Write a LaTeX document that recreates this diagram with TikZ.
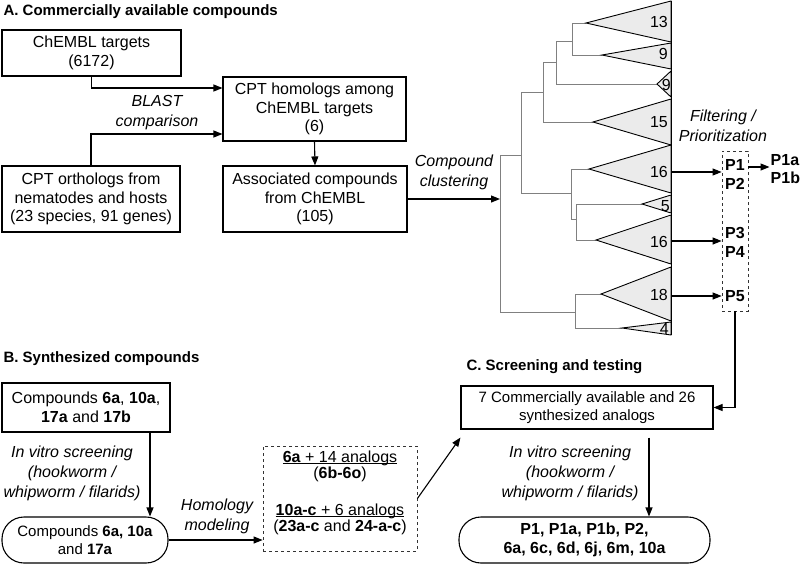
\documentclass[tikz,border=0pt]{standalone}
\usepackage{fontspec}
\setmainfont{Liberation Sans}
\usetikzlibrary{arrows.meta}

\begin{document}
\begin{tikzpicture}[x=1pt,y=-1pt,
	% kieu chung cho cac hop
	box/.style={
		draw=black,
		line width=1.1pt,
		align=center,
		inner sep=0pt,
		font=\fontsize{16}{18.5}\selectfont
	},
	rbox/.style={box, rounded corners=22pt},
	dbox/.style={draw=black!80, dashed, line width=0.8pt, align=center, inner sep=0pt},
	lbl/.style={align=center, font=\fontsize{16}{20}\selectfont\itshape},
	ttl/.style={anchor=west, font=\fontsize{15}{18}\selectfont\bfseries},
	arr/.style={line width=1.1pt, -{Triangle[length=9pt,width=7pt]}},
	branch/.style={draw=black!50, line width=0.9pt},
	clade/.style={draw=black, fill=black!8, line width=0.9pt},
	num/.style={anchor=east, inner sep=1pt, font=\fontsize{16}{18}\selectfont}
	]
	\useasboundingbox (0,0) rectangle (800,565);
	
	% Phan A
	\node[ttl] (ta) at (0,12) {A. Commercially available compounds};
	\node[box, minimum width=179pt, minimum height=46pt] (chembl) at (91.5,53) {ChEMBL targets\\(6172)};
	\node[box, minimum width=183pt, minimum height=64pt] (homol) at (314.5,109) {CPT homologs among\\ChEMBL targets\\(6)};
	\node[box, minimum width=178pt, minimum height=66pt] (ortho) at (91,199) {CPT orthologs from\\nematodes and hosts\\(23 species, 91 genes)};
	\node[box, minimum width=184pt, minimum height=66pt] (assoc) at (315,199) {Associated compounds\\from ChEMBL\\(105)};
	\node[lbl] (blast) at (157,113) {BLAST\\comparison};
	\draw[arr] (chembl.south) |- ([yshift=21pt]homol.west);
	\draw[arr] (ortho.north) |- ([yshift=-25pt]homol.west);
	\draw[arr] (homol.south) -- (assoc.north);
	
	% Cay phan cum
	\coordinate (root) at (500,199);
	\node[lbl] (clust) at (454,172) {Compound\\clustering};
	\draw[arr] (assoc.east) -- (assoc.east -| root);
	\draw[branch] (500,155) -- (500,312)
		(500,155) -- (521,155) (521,92) -- (521,193)
		(521,92) -- (543,92) (543,62) -- (543,122)
		(543,62) -- (556,62) (556,41) -- (556,84)
		(556,41) -- (572,41) (572,23) -- (572,55)
		(572,23) -- (586,23) (572,55) -- (602,55)
		(556,84) -- (657,84)
		(543,122) -- (593,122)
		(521,193) -- (571,193) (571,169) -- (571,219)
		(571,169) -- (589,169)
		(571,219) -- (576,219) (576,204) -- (576,240)
		(576,204) -- (642,204) (576,240) -- (596,240)
		(500,312) -- (575,312) (575,294) -- (575,328)
		(575,294) -- (601,294) (575,328) -- (622,328);
	\filldraw[clade] (586,23) -- (671,1) -- (671,42) -- cycle;
	\filldraw[clade] (602,55) -- (671,43) -- (671,69) -- cycle;
	\filldraw[clade] (657,84) -- (671,71) -- (671,97) -- cycle;
	\filldraw[clade] (593,122) -- (671,99) -- (671,145) -- cycle;
	\filldraw[clade] (589,169) -- (671,145) -- (671,193) -- cycle;
	\filldraw[clade] (642,204) -- (671,195) -- (671,213) -- cycle;
	\filldraw[clade] (596,240) -- (671,215) -- (671,264) -- cycle;
	\filldraw[clade] (601,294) -- (671,267) -- (671,321) -- cycle;
	\filldraw[clade] (622,328) -- (671,322) -- (671,335) -- cycle;
	\draw[line width=0.9pt] (671,1) -- (671,335);
	\node[num] (n13) at (669,22) {13};
	\node[num] (n9a) at (669,54) {9};
	\node[num] (n9b) at (672,85) {9};
	\node[num] (n15) at (669,122) {15};
	\node[num] (n16a) at (669,172) {16};
	\node[num] (n5) at (671,206) {5};
	\node[num] (n16b) at (669,242) {16};
	\node[num] (n18) at (669,295) {18};
	\node[num] (n4) at (670,329) {4};
	
	% Loc / uu tien
	\node[lbl] (filt) at (723,126) {Filtering /\\Prioritization};
	\node[dbox, minimum width=26pt, minimum height=160pt] (pbox) at (735,231) {};
	\node[font=\fontsize{16}{19}\selectfont\bfseries, align=center, inner sep=0pt] (p12) at (735,174.5) {P1\\P2};
	\node[font=\fontsize{16}{19}\selectfont\bfseries, align=center, inner sep=0pt] (p34) at (735,242) {P3\\P4};
	\node[font=\fontsize{16}{19}\selectfont\bfseries, inner sep=0pt] (p5) at (735,296) {P5};
	\node[font=\fontsize{16}{18}\selectfont\bfseries, align=left, anchor=west, inner sep=0pt] (p1ab) at (770.5,169) {P1a\\P1b};
	\coordinate (c16a) at (671,172);
	\coordinate (c16b) at (671,241);
	\coordinate (c18) at (671,296);
	\draw[arr] (c16a) -- (c16a -| pbox.west);
	\draw[arr] (c16b) -- (c16b -| pbox.west);
	\draw[arr] (c18) -- (c18 -| pbox.west);
	\draw[arr] ([yshift=2pt]pbox.east |- p1ab.west) -- ([xshift=-1pt,yshift=2pt]p1ab.west);
	
	% Phan B
	\node[ttl] (tb) at (0,359) {B. Synthesized compounds};
	\node[box, minimum width=168pt, minimum height=49pt] (synth) at (86,407.5) {Compounds \textbf{6a}, \textbf{10a},\\\textbf{17a} and \textbf{17b}};
	\node[rbox, minimum width=166pt, minimum height=46pt, font=\fontsize{15}{18.5}\selectfont] (hitb) at (85,540) {Compounds \textbf{6a, 10a}\\and \textbf{17a}};
	\node[lbl] (scrb) at (72,473) {In vitro screening\\(hookworm /\\whipworm / filarids)};
	\draw[arr] ([xshift=64pt]synth.south) -- ([xshift=64pt]synth.south |- hitb.north);
	\node[dbox, minimum width=154pt, minimum height=105pt, font=\fontsize{16}{16.5}\selectfont] (analog) at (340,498.5)
		{\underline{\smash{\textbf{6a} + 14 analogs}}\\(\textbf{6b-6o})\\[20pt]\underline{\smash{\textbf{10a-c} + 6 analogs}}\\(\textbf{23a-c} and \textbf{24-a-c})};
	\node[lbl] (homm) at (217,516) {Homology\\modeling};
	\draw[arr] (hitb.east) -- (hitb.east -| analog.west);
	
	% Phan C
	\node[ttl] (tc) at (463,367) {C. Screening and testing};
	\node[box, minimum width=252pt, minimum height=43pt, font=\fontsize{15}{18}\selectfont] (test) at (587,407.5) {7 Commercially available and 26\\synthesized analogs};
	\node[rbox, minimum width=251pt, minimum height=46pt, font=\fontsize{16}{19}\selectfont\bfseries] (hitc) at (584.5,540) {P1, P1a, P1b, P2,\\6a, 6c, 6d, 6j, 6m, 10a};
	\node[lbl] (scrc) at (570,473) {In vitro screening\\(hookworm /\\whipworm / filarids)};
	\draw[arr] (pbox.south) |- (test.east);
	\draw[arr] (analog.east) -- ([yshift=-8pt]test.south west);
	\draw[arr] ([xshift=62pt,yshift=-8pt]test.south) -- ([xshift=62pt]test.south |- hitc.north);
\end{tikzpicture}
\end{document}
